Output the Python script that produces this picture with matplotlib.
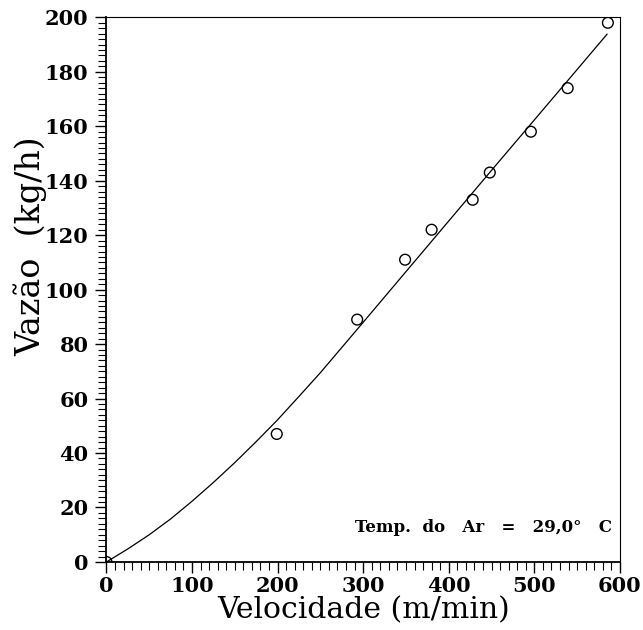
import numpy as np
import matplotlib
matplotlib.use('Agg')
import matplotlib.pyplot as plt
from matplotlib.ticker import MultipleLocator

# measured points: velocity (m/min) vs mass flow (kg/h)
velocidade = [0, 199, 293, 349, 380, 428, 448, 496, 539, 586]
vazao = [0, 47, 89, 111, 122, 133, 143, 158, 174, 198]

# fitted curve, sampled along the drawn line
curva_x = [0, 25, 50, 75, 100, 125, 150, 175, 200, 225, 250, 300, 350, 400, 450, 500, 550, 585]
curva_y = [0, 4.8, 10.0, 15.8, 22.3, 29.2, 36.5, 44.2, 52.2, 60.8, 69.5, 88.0, 106.6,
           125.2, 143.8, 162.3, 180.8, 193.8]

legenda = 'Temp.  do   Ar   =   29,0°   C'

plt.rcParams['font.family'] = ['DejaVu Serif']

fig = plt.figure(figsize=(6.43, 6.30), dpi=100)
ax = fig.add_axes([0.1656, 0.108, 0.7984, 0.8645])

ax.plot(curva_x, curva_y, color='black', lw=0.9)
ax.scatter(velocidade, vazao, s=60, facecolors='none', edgecolors='black', linewidths=1.0, zorder=3)

ax.set_xlim(0, 600)
ax.set_ylim(0, 200)
ax.xaxis.set_major_locator(MultipleLocator(100))
ax.xaxis.set_minor_locator(MultipleLocator(10))
ax.yaxis.set_major_locator(MultipleLocator(20))
ax.yaxis.set_minor_locator(MultipleLocator(2))
ax.tick_params(which='major', direction='out', length=8, width=1.0, labelsize=15)
ax.tick_params(which='minor', direction='out', length=6, width=0.8)
ax.tick_params(axis='x', which='major', pad=2)
ax.tick_params(axis='y', which='major', pad=5)
for lab in ax.get_xticklabels() + ax.get_yticklabels():
    lab.set_fontweight('bold')

ax.spines['left'].set_linewidth(1.3)
ax.spines['bottom'].set_linewidth(1.3)
for s in ('top', 'right'):
    ax.spines[s].set_linewidth(0.8)
    ax.spines[s].set_linestyle((0, (5, 1)))

ax.set_xlabel('Velocidade (m/min)', fontsize=21.5, va='baseline')
ax.xaxis.set_label_coords(0.5, -0.103)
ax.set_ylabel('Vazão  (kg/h)', fontsize=24)
ax.yaxis.set_label_coords(-0.115, 0.58)

ax.text(591, 12.5, legenda, ha='right', va='center', fontsize=12, fontweight='bold')

fig.savefig('out.png', dpi=100)
